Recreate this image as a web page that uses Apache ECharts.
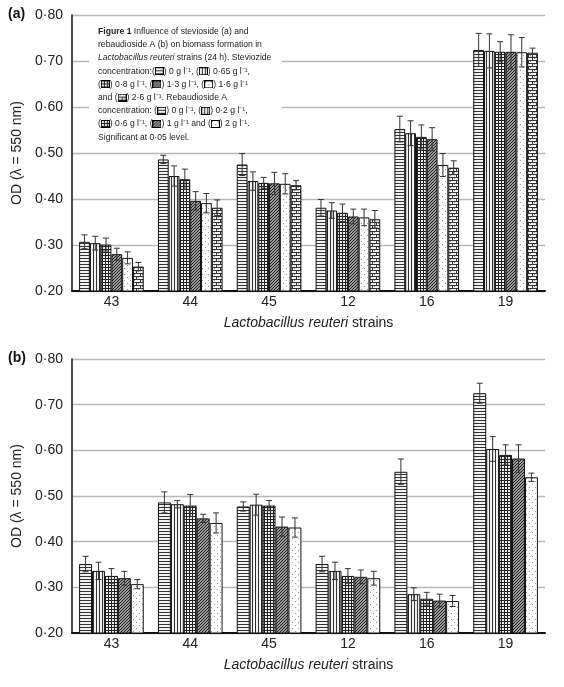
<!DOCTYPE html>
<html>
<head>
<meta charset="utf-8">
<script src="https://cdn.jsdelivr.net/npm/echarts@6/dist/echarts.min.js"></script>
<style>
    html, body { margin: 0; padding: 0; background: #fff; }
    #chart { width: 564px; height: 687px; }
</style>
</head>
<body>
<div id="chart"></div>
<script>
// strains on the x axis
var strains = ['43', '44', '45', '12', '16', '19'];
var yTicks = [0.2, 0.3, 0.4, 0.5, 0.6, 0.7, 0.8];

// (a) stevioside, 6 concentrations: mean OD and error
var steA0 = [0.307, 0.486, 0.475, 0.381, 0.552, 0.724];
var steA1 = [0.304, 0.450, 0.439, 0.375, 0.543, 0.722];
var steA2 = [0.301, 0.443, 0.435, 0.370, 0.535, 0.720];
var steA3 = [0.280, 0.396, 0.434, 0.362, 0.530, 0.720];
var steA4 = [0.272, 0.391, 0.433, 0.360, 0.474, 0.719];
var steA5 = [0.253, 0.381, 0.430, 0.356, 0.468, 0.718];
var errA0 = [0.015, 0.009, 0.024, 0.018, 0.028, 0.036];
var errA1 = [0.015, 0.022, 0.020, 0.017, 0.027, 0.037];
var errA2 = [0.014, 0.022, 0.012, 0.019, 0.026, 0.022];
var errA3 = [0.013, 0.020, 0.024, 0.016, 0.025, 0.037];
var errA4 = [0.013, 0.021, 0.022, 0.018, 0.025, 0.032];
var errA5 = [0.009, 0.017, 0.010, 0.019, 0.015, 0.010];

// (b) rebaudioside A, 5 concentrations
var rebB0 = [0.351, 0.486, 0.477, 0.351, 0.553, 0.725];
var rebB1 = [0.336, 0.482, 0.481, 0.336, 0.285, 0.603];
var rebB2 = [0.325, 0.479, 0.479, 0.325, 0.275, 0.590];
var rebB3 = [0.320, 0.451, 0.433, 0.323, 0.271, 0.582];
var rebB4 = [0.307, 0.441, 0.431, 0.320, 0.270, 0.541];
var errB0 = [0.017, 0.023, 0.010, 0.017, 0.028, 0.022];
var errB1 = [0.019, 0.008, 0.023, 0.019, 0.014, 0.027];
var errB2 = [0.016, 0.024, 0.011, 0.016, 0.014, 0.022];
var errB3 = [0.015, 0.009, 0.021, 0.015, 0.014, 0.030];
var errB4 = [0.010, 0.022, 0.021, 0.015, 0.012, 0.009];

var CAT_GAP = 0.18;
var FONT = '"Liberation Sans", Arial, sans-serif';

// small tiles for the hatch fills
function tile(w, h, bg, ink, draw) {
    var c = document.createElement('canvas');
    c.width = w; c.height = h;
    var ctx = c.getContext('2d');
    ctx.fillStyle = bg;
    ctx.fillRect(0, 0, w, h);
    ctx.fillStyle = ink;
    draw(ctx);
    return c;
}
var tiles = [
    tile(3, 3, '#f2f2f2', '#333', function (g) { g.fillRect(0, 0, 3, 1); }),            // horizontal
    tile(3, 3, '#f2f2f2', '#333', function (g) { g.fillRect(0, 0, 1, 3); }),            // vertical
    tile(3, 3, '#eee', '#222', function (g) { g.fillRect(0, 0, 3, 1); g.fillRect(0, 0, 1, 3); }), // grid
    tile(3, 3, '#999', '#222', function (g) { for (var i = 0; i < 3; i++) g.fillRect(i, 2 - i, 1, 1); }), // diagonal
    tile(6, 6, '#fff', '#999', function (g) { g.fillRect(1, 1, 1, 1); g.fillRect(4, 4, 1, 1); }),        // dots
    tile(8, 6, '#f4f4f4', '#333', function (g) {                                          // brick
        g.fillRect(0, 0, 8, 1); g.fillRect(0, 3, 8, 1);
        g.fillRect(0, 0, 1, 3); g.fillRect(4, 3, 1, 3);
        g.fillStyle = '#888'; g.fillRect(2, 1, 1, 1); g.fillRect(6, 4, 1, 1);
    })
];
function fill(k) { return { image: tiles[k], repeat: 'repeat' }; }

// swatches for the caption
function swatch(k) {
    var c = document.createElement('canvas');
    c.width = 9; c.height = 8;
    var ctx = c.getContext('2d');
    ctx.fillStyle = ctx.createPattern(tiles[k], 'repeat');
    ctx.fillRect(0, 0, 9, 8);
    ctx.strokeStyle = '#000';
    ctx.lineWidth = 1;
    ctx.strokeRect(0.5, 0.5, 8, 7);
    return c;
}

var captionLines = [
    '{b|Figure 1} Influence of stevioside (a) and',
    'rebaudioside A (b) on biomass formation in',
    '{i|Lactobacillus reuteri} strains (24 h). Steviozide',
    'concentration:({s0| }) 0 g l⁻¹, ({s1| }) 0·65 g l⁻¹,',
    '({s2| }) 0·8 g l⁻¹, ({s3| }) 1·3 g l⁻¹, ({s4| }) 1·6 g l⁻¹',
    'and ({s5| }) 2·6 g l⁻¹. Rebaudioside A',
    'concentration: ({s0| }) 0 g l⁻¹, ({s1| }) 0·2 g l⁻¹,',
    '({s2| }) 0·6 g l⁻¹, ({s3| }) 1 g l⁻¹ and ({s4| }) 2 g l⁻¹.',
    'Significant at 0·05 level.'
];
var capRich = {
    b: { fontWeight: 'bold', fontSize: 8.6, fontFamily: FONT, lineHeight: 13.2, fill: '#222' },
    i: { fontStyle: 'italic', fontSize: 8.6, fontFamily: FONT, lineHeight: 13.2, fill: '#222' }
};
for (var s = 0; s < 6; s++) {
    capRich['s' + s] = { width: 9, height: 8, backgroundColor: { image: swatch(s) }, lineHeight: 13.2 };
}

var groupsA = [[steA0, errA0], [steA1, errA1], [steA2, errA2], [steA3, errA3], [steA4, errA4], [steA5, errA5]];
var groupsB = [[rebB0, errB0], [rebB1, errB1], [rebB2, errB2], [rebB3, errB3], [rebB4, errB4]];

function errRender(n) {
    return function (params, api) {
        var i = api.value(0), k = api.value(1);
        var lo = api.coord([i, api.value(2)]);
        var hi = api.coord([i, api.value(3)]);
        var bw = api.size([1, 0])[0] * (1 - CAT_GAP) / n;
        var x = lo[0] + (k - (n - 1) / 2) * bw;
        var st = { stroke: '#333', lineWidth: 1 };
        return {
            type: 'group',
            children: [
                { type: 'line', shape: { x1: x, y1: lo[1], x2: x, y2: hi[1] }, style: st },
                { type: 'line', shape: { x1: x - 3, y1: hi[1], x2: x + 3, y2: hi[1] }, style: st },
                { type: 'line', shape: { x1: x - 3, y1: lo[1], x2: x + 3, y2: lo[1] }, style: st }
            ]
        };
    };
}

function buildSeries(groups, axis) {
    var out = [];
    var errData = [];
    groups.forEach(function (g, k) {
        out.push({
            type: 'bar',
            xAxisIndex: axis, yAxisIndex: axis,
            data: g[0],
            barGap: '0%',
            barCategoryGap: (CAT_GAP * 100) + '%',
            itemStyle: { color: fill(k), borderColor: '#111', borderWidth: 1 },
            silent: true
        });
        g[0].forEach(function (v, i) {
            errData.push([i, k, v - g[1][i], v + g[1][i]]);
        });
    });
    out.push({
        type: 'custom',
        xAxisIndex: axis, yAxisIndex: axis,
        renderItem: errRender(groups.length),
        encode: { x: 0, y: [2, 3] },
        data: errData,
        z: 5,
        silent: true
    });
    return out;
}

function xAxis(idx) {
    return {
        type: 'category', gridIndex: idx, data: strains,
        axisLine: { lineStyle: { color: '#111', width: 2 } },
        axisTick: { inside: true, length: 5, lineStyle: { color: '#111', width: 1.5 } },
        axisLabel: { color: '#222', fontSize: 14, fontFamily: FONT, margin: 4 },
        name: '{i|Lactobacillus reuteri} strains',
        nameLocation: 'middle', nameGap: 25,
        nameTextStyle: {
            color: '#222', fontSize: 14, fontFamily: FONT,
            rich: { i: { fontStyle: 'italic', fontSize: 14, fontFamily: FONT, color: '#222' } }
        }
    };
}
function yAxis(idx) {
    return {
        type: 'value', gridIndex: idx,
        min: yTicks[0], max: yTicks[yTicks.length - 1], interval: 0.1,
        axisLine: { show: true, lineStyle: { color: '#111', width: 1.5 } },
        axisTick: { show: false },
        splitLine: { lineStyle: { color: '#b8b8b8', width: 1.3 } },
        axisLabel: {
            color: '#222', fontSize: 14, fontFamily: FONT, margin: 9,
            formatter: function (v) { return v.toFixed(2).replace('.', '·'); }
        },
        name: 'OD (λ = 550 nm)', nameLocation: 'middle', nameGap: 48,
        nameTextStyle: { color: '#222', fontSize: 14, fontFamily: FONT }
    };
}

var chart = echarts.init(document.getElementById('chart'), null, { renderer: 'canvas' });
chart.setOption({
    animation: false,
    grid: [
        { left: 72, right: 19, top: 15, height: 276, outerBoundsMode: 'none', containLabel: false },
        { left: 72, right: 19, top: 359, height: 274, outerBoundsMode: 'none', containLabel: false }
    ],
    xAxis: [xAxis(0), xAxis(1)],
    yAxis: [yAxis(0), yAxis(1)],
    series: buildSeries(groupsA, 0).concat(buildSeries(groupsB, 1)),
    graphic: [
        { type: 'text', left: 8, top: 7, style: { text: '(a)', font: 'bold 14px ' + FONT, fill: '#111' } },
        { type: 'text', left: 8, top: 351, style: { text: '(b)', font: 'bold 14px ' + FONT, fill: '#111' } },
        { type: 'rect', shape: { x: 89, y: 21, width: 193, height: 121 }, style: { fill: '#fff' }, z: 10 },
        {
            type: 'text', x: 98, y: 25, z: 11,
            style: {
                text: captionLines.join('\n'),
                fontSize: 8.6, fontFamily: FONT, fill: '#222',
                lineHeight: 13.2, rich: capRich
            }
        }
    ]
});
</script>
</body>
</html>
